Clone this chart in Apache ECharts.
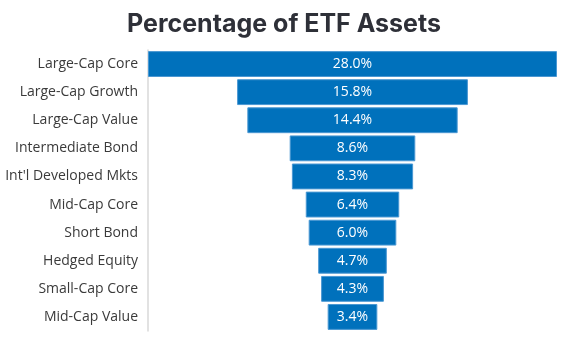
<!DOCTYPE html>
<html><head><meta charset="utf-8">
<script src="https://cdn.jsdelivr.net/npm/echarts@6/dist/echarts.min.js"></script>
<style>html,body{margin:0;padding:0;background:#fff}#c{width:568px;height:341px}</style>
</head><body><div id="c"></div>
<script>
var categories = ["Large-Cap Core","Large-Cap Growth","Large-Cap Value","Intermediate Bond","Int'l Developed Mkts","Mid-Cap Core","Short Bond","Hedged Equity","Small-Cap Core","Mid-Cap Value"];
var values = [28.0,15.8,14.4,8.6,8.3,6.4,6.0,4.7,4.3,3.4];
var maxVal = Math.max.apply(null, values);
var offsets = values.map(function(v){ return (maxVal - v) / 2; });

var chart = echarts.init(document.getElementById('c'), null, {renderer:'canvas'});
chart.setOption({
  animation:false,
  title:{text:'Percentage of ETF Assets', left:'center', top:7,
    textStyle:{fontFamily:'Inter', fontSize:25, fontWeight:'bold', color:'#2e3038'}},
  grid:{left:148, right:11, top:50, bottom:10, containLabel:false},
  xAxis:{type:'value', min:0, max:maxVal, show:false},
  yAxis:{type:'category', inverse:true, data:categories,
    axisLine:{show:true, lineStyle:{color:'#d9d9d9', width:1.5}},
    axisTick:{show:false},
    axisLabel:{fontFamily:'Open Sans', fontSize:14, color:'#3a3a3a', margin:10, padding:[3,0,0,0]}},
  series:[
    {type:'bar', stack:'a', data:offsets, itemStyle:{color:'transparent'}, barCategoryGap:'8%', silent:true},
    {type:'bar', stack:'a', data:values, barCategoryGap:'8%',
      itemStyle:{color:'#0071bc', borderColor:'#4a98d3', borderWidth:1},
      label:{show:true, position:'inside', fontFamily:'Open Sans', fontSize:14, color:'#ffffff',
        formatter:function(p){ return p.value.toFixed(1) + '%'; }}}
  ]
});
</script></body></html>
